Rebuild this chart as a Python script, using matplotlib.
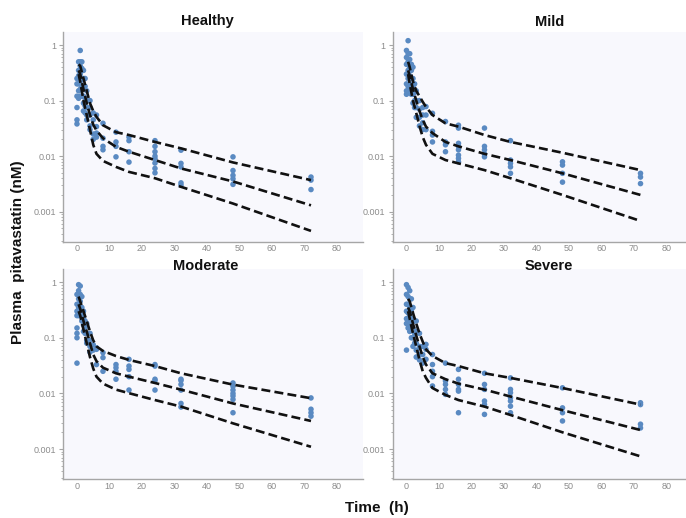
import matplotlib
matplotlib.use('Agg')
import matplotlib.pyplot as plt
from matplotlib.ticker import FixedLocator, LogLocator, NullFormatter

plt.rcParams['font.family'] = ['Liberation Sans', 'DejaVu Sans']

# ---------------- data ----------------
panel_names = ["Healthy", "Mild", "Moderate", "Severe"]

obs_times = [0, 0.5, 1, 1.5, 2, 2.5, 3, 4, 5, 6, 8, 12, 16, 24, 32, 48, 72]

healthy_obs = [
    [0.2, 0.25, 0.12, 0.075, 0.045, 0.038],
    [0.5, 0.35, 0.28, 0.2, 0.15, 0.11],
    [0.8, 0.5, 0.42, 0.3, 0.22, 0.16, 0.12],
    [0.5, 0.38, 0.25, 0.18, 0.12],
    [0.35, 0.25, 0.17, 0.12, 0.09, 0.065],
    [0.25, 0.18, 0.11, 0.08, 0.06],
    [0.15, 0.1, 0.075, 0.055, 0.045],
    [0.1, 0.075, 0.055, 0.035, 0.03],
    [0.06, 0.045, 0.025, 0.02],
    [0.055, 0.034, 0.026, 0.022],
    [0.039, 0.021, 0.015, 0.013],
    [0.027, 0.018, 0.015, 0.0097],
    [0.022, 0.019, 0.012, 0.0078],
    [0.019, 0.015, 0.012, 0.01, 0.009, 0.0075, 0.006, 0.005],
    [0.0128, 0.0074, 0.0064, 0.0033, 0.003],
    [0.0097, 0.0055, 0.0045, 0.0039, 0.0031],
    [0.0042, 0.0037, 0.0025],
]

mild_obs = [
    [0.8, 0.6, 0.45, 0.3, 0.2, 0.15, 0.13],
    [1.2, 0.7, 0.5, 0.35, 0.25, 0.18, 0.14],
    [0.7, 0.55, 0.4, 0.28, 0.2, 0.15],
    [0.45, 0.35, 0.25, 0.17, 0.13],
    [0.4, 0.25, 0.18, 0.13, 0.09],
    [0.2, 0.14, 0.1, 0.075],
    [0.15, 0.1, 0.075, 0.05],
    [0.1, 0.07, 0.05, 0.035],
    [0.075, 0.055, 0.04, 0.03],
    [0.078, 0.055, 0.03],
    [0.059, 0.028, 0.024, 0.018],
    [0.042, 0.018, 0.016, 0.012],
    [0.036, 0.032, 0.017, 0.015, 0.013, 0.0104, 0.0091, 0.0079],
    [0.032, 0.015, 0.013, 0.011, 0.0097],
    [0.019, 0.0085, 0.0074, 0.0064, 0.0049],
    [0.0079, 0.0069, 0.0049, 0.0034],
    [0.0049, 0.0042, 0.0032],
]

moderate_obs = [
    [0.6, 0.4, 0.3, 0.25, 0.15, 0.12, 0.1, 0.035],
    [0.9, 0.7, 0.5, 0.35, 0.25],
    [0.85, 0.6, 0.45, 0.32, 0.25],
    [0.55, 0.35, 0.25, 0.2],
    [0.3, 0.22, 0.17, 0.13],
    [0.2, 0.15, 0.12],
    [0.18, 0.12, 0.09, 0.08],
    [0.12, 0.09, 0.07, 0.055],
    [0.075, 0.06],
    [0.066, 0.062, 0.033],
    [0.054, 0.044, 0.025],
    [0.033, 0.029, 0.025, 0.018],
    [0.041, 0.031, 0.027, 0.02, 0.0115],
    [0.033, 0.031, 0.018, 0.017, 0.0115],
    [0.018, 0.017, 0.0145, 0.0115, 0.0066, 0.0057],
    [0.0154, 0.0134, 0.0115, 0.01, 0.009, 0.0078, 0.0045],
    [0.0083, 0.0052, 0.0045, 0.0039],
]

severe_obs = [
    [0.9, 0.6, 0.4, 0.3, 0.22, 0.18, 0.06],
    [0.8, 0.55, 0.4, 0.28, 0.2, 0.15],
    [0.7, 0.5, 0.35, 0.25, 0.18, 0.13],
    [0.5, 0.3, 0.2, 0.15, 0.1],
    [0.35, 0.22, 0.15, 0.1, 0.07],
    [0.2, 0.12, 0.08],
    [0.2, 0.13, 0.08, 0.06, 0.045],
    [0.12, 0.07, 0.05, 0.04],
    [0.07, 0.05, 0.035],
    [0.076, 0.062, 0.041],
    [0.05, 0.033, 0.025, 0.02, 0.0136],
    [0.035, 0.0168, 0.0145, 0.0118, 0.0096],
    [0.027, 0.018, 0.0145, 0.0118, 0.011, 0.0045],
    [0.023, 0.0145, 0.0118, 0.0073, 0.0063, 0.0042],
    [0.019, 0.0118, 0.0103, 0.0084, 0.0073, 0.0059, 0.0045],
    [0.0126, 0.0055, 0.0045, 0.0032],
    [0.0068, 0.0063, 0.0028, 0.0024],
]

line_times = [0.5, 1, 2, 3, 4, 5, 6, 8, 12, 16, 24, 32, 48, 72]

healthy_p95 = [0.45, 0.42, 0.25, 0.15, 0.09, 0.065, 0.051, 0.036, 0.027, 0.024, 0.018, 0.0138, 0.0077, 0.0037]
healthy_p50 = [0.35, 0.3, 0.16, 0.09, 0.055, 0.037, 0.029, 0.021, 0.0147, 0.012, 0.0085, 0.006, 0.0035, 0.0013]
healthy_p05 = [0.3, 0.22, 0.1, 0.055, 0.03, 0.016, 0.011, 0.0082, 0.0064, 0.0052, 0.004, 0.0028, 0.0014, 0.00045]

mild_p95 = [0.5, 0.4, 0.22, 0.15, 0.12, 0.095, 0.077, 0.055, 0.039, 0.034, 0.024, 0.018, 0.0115, 0.0056]
mild_p50 = [0.35, 0.28, 0.16, 0.1, 0.065, 0.045, 0.034, 0.026, 0.018, 0.015, 0.011, 0.0085, 0.0049, 0.002]
mild_p05 = [0.3, 0.2, 0.1, 0.06, 0.035, 0.022, 0.016, 0.011, 0.0085, 0.0074, 0.0056, 0.004, 0.002, 0.00068]

moderate_p95 = [0.55, 0.45, 0.3, 0.2, 0.13, 0.09, 0.07, 0.058, 0.047, 0.04, 0.031, 0.023, 0.0144, 0.0082]
moderate_p50 = [0.4, 0.33, 0.2, 0.13, 0.08, 0.05, 0.038, 0.029, 0.023, 0.02, 0.0154, 0.0117, 0.0066, 0.0032]
moderate_p05 = [0.3, 0.25, 0.14, 0.08, 0.045, 0.028, 0.02, 0.015, 0.0117, 0.0101, 0.0076, 0.0058, 0.0029, 0.0011]

severe_p95 = [0.5, 0.45, 0.28, 0.18, 0.12, 0.085, 0.062, 0.047, 0.035, 0.031, 0.023, 0.019, 0.0125, 0.0063]
severe_p50 = [0.35, 0.3, 0.18, 0.11, 0.07, 0.045, 0.033, 0.023, 0.018, 0.015, 0.0117, 0.0088, 0.005, 0.0022]
severe_p05 = [0.3, 0.22, 0.12, 0.07, 0.04, 0.025, 0.019, 0.0125, 0.0094, 0.0076, 0.0058, 0.0041, 0.002, 0.00074]

x_ticks = [0, 10, 20, 30, 40, 50, 60, 70, 80]
y_ticks = [0.001, 0.01, 0.1, 1]
y_tick_labels = ["0.001", "0.01", "0.1", "1"]

# ---------------- figure ----------------
W, H = 686, 518
fig = plt.figure(figsize=(W / 100, H / 100), dpi=100)


def rect(l, t, r, b):
    return [l / W, 1 - b / H, (r - l) / W, (b - t) / H]


rects = [rect(63, 32, 363, 241.5), rect(392.5, 32, 692.5, 241.5),
         rect(63, 269, 363, 479), rect(392.5, 269, 692.5, 479)]
# title centre positions in pixels (x, y)
title_px = [(207.5, 21.5), (550, 21.5), (206, 266), (549, 266)]

all_obs = [healthy_obs, mild_obs, moderate_obs, severe_obs]
all_lines = [(healthy_p05, healthy_p50, healthy_p95),
             (mild_p05, mild_p50, mild_p95),
             (moderate_p05, moderate_p50, moderate_p95),
             (severe_p05, severe_p50, severe_p95)]

axis_gray = '#a6a6a6'
label_gray = '#8c8c8c'

for i, name in enumerate(panel_names):
    ax = fig.add_axes(rects[i])
    ax.set_facecolor('#f8f8fd')
    xs, ys = [], []
    for t, vals in zip(obs_times, all_obs[i]):
        for v in vals:
            xs.append(t)
            ys.append(v)
    ax.scatter(xs, ys, s=16, color='#5a8ac2', edgecolors='none', zorder=2)
    for line in all_lines[i]:
        ax.plot(line_times, line, color='#111111', lw=1.9, ls=(0, (3.4, 1.6)),
                zorder=3, dash_capstyle='butt')
    ax.set_yscale('log')
    ax.set_ylim(2.9e-4, 1.72)
    ax.set_xlim(-4.3, 88)
    ax.yaxis.set_major_locator(FixedLocator(y_ticks))
    ax.set_yticklabels(y_tick_labels)
    ax.yaxis.set_minor_locator(LogLocator(base=10, subs=range(2, 10)))
    ax.yaxis.set_minor_formatter(NullFormatter())
    ax.set_xticks(x_ticks)
    ax.set_xticklabels([str(v) for v in x_ticks])
    for s in ['top', 'right']:
        ax.spines[s].set_visible(False)
    for s in ['left', 'bottom']:
        ax.spines[s].set_color(axis_gray)
        ax.spines[s].set_linewidth(1.0)
    ax.tick_params(axis='y', which='major', length=3, width=0.8, color=axis_gray,
                   labelsize=6.5, labelcolor=label_gray, pad=2)
    ax.tick_params(axis='y', which='minor', length=1.8, width=0.6, color=axis_gray)
    ax.tick_params(axis='x', which='both', length=0, labelsize=6.5,
                   labelcolor=label_gray, pad=2)
    tx, ty = title_px[i]
    fig.text(tx / W, 1 - ty / H, name, ha='center', va='center',
             fontsize=10.5, fontweight='bold', color='#111111')

fig.text(18 / W, 1 - 252 / H, 'Plasma  pitavastatin (nM)', rotation=90,
         ha='center', va='center', fontsize=11, fontweight='bold', color='#111111')
fig.text(377 / W, 1 - 508 / H, 'Time  (h)', ha='center', va='center',
         fontsize=11, fontweight='bold', color='#111111')

fig.savefig('out.png', dpi=100)
